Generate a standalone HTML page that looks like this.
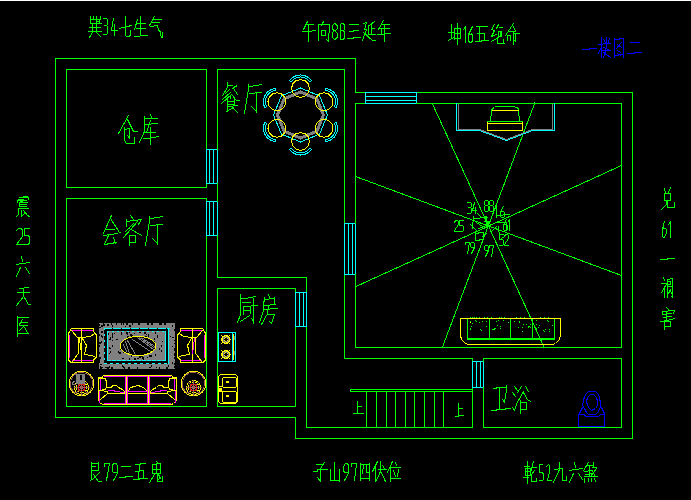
<!DOCTYPE html>
<html><head><meta charset="utf-8"><style>
html,body{margin:0;padding:0;background:#000;width:691px;height:500px;overflow:hidden}
svg{display:block}
</style></head><body>
<svg width="691" height="500" viewBox="0 0 691 500" shape-rendering="crispEdges" stroke-width="1" stroke-linecap="square" fill="none">
<rect x="0" y="0" width="691" height="500" fill="#000"/>
<rect x="0" y="0" width="691" height="1" fill="#ffffff"/>
<polyline points="355.5,92.5 355.5,58.5 55.5,58.5 55.5,417.5 295.5,417.5 295.5,438.5 632.5,438.5 632.5,92.5 416.5,92.5" stroke="#00ff00" fill="none"/>
<line x1="355.5" y1="92.5" x2="365.5" y2="92.5" stroke="#00ff00"/>
<rect x="66.5" y="69.5" width="140" height="118" stroke="#00ff00" fill="none"/>
<rect x="66.5" y="198.5" width="140" height="208" stroke="#00ff00" fill="none"/>
<rect x="206.5" y="149.5" width="11" height="34" stroke="#00ffff" fill="none"/>
<line x1="209.5" y1="149.5" x2="209.5" y2="183.5" stroke="#00ffff"/>
<line x1="213.5" y1="149.5" x2="213.5" y2="183.5" stroke="#00ffff"/>
<rect x="206.5" y="201.5" width="11" height="34" stroke="#00ffff" fill="none"/>
<line x1="209.5" y1="201.5" x2="209.5" y2="235.5" stroke="#00ffff"/>
<line x1="213.5" y1="201.5" x2="213.5" y2="235.5" stroke="#00ffff"/>
<line x1="217.5" y1="69.5" x2="217.5" y2="149.5" stroke="#00ff00"/>
<line x1="217.5" y1="183.5" x2="217.5" y2="201.5" stroke="#00ff00"/>
<line x1="217.5" y1="235.5" x2="217.5" y2="277.5" stroke="#00ff00"/>
<line x1="217.5" y1="69.5" x2="344.5" y2="69.5" stroke="#00ff00"/>
<line x1="344.5" y1="69.5" x2="344.5" y2="223.5" stroke="#00ff00"/>
<line x1="344.5" y1="274.5" x2="344.5" y2="358.5" stroke="#00ff00"/>
<rect x="344.5" y="223.5" width="11" height="51" stroke="#00ffff" fill="none"/>
<line x1="348.5" y1="223.5" x2="348.5" y2="274.5" stroke="#00ffff"/>
<line x1="352.5" y1="223.5" x2="352.5" y2="274.5" stroke="#00ffff"/>
<line x1="217.5" y1="277.5" x2="306.5" y2="277.5" stroke="#00ff00"/>
<line x1="306.5" y1="277.5" x2="306.5" y2="292.5" stroke="#00ff00"/>
<line x1="306.5" y1="326.5" x2="306.5" y2="427.5" stroke="#00ff00"/>
<polyline points="295.5,292.5 295.5,288.5 217.5,288.5 217.5,406.5 295.5,406.5 295.5,326.5" stroke="#00ff00" fill="none"/>
<rect x="295.5" y="292.5" width="11" height="34" stroke="#00ffff" fill="none"/>
<line x1="299.5" y1="292.5" x2="299.5" y2="326.5" stroke="#00ffff"/>
<line x1="303.5" y1="292.5" x2="303.5" y2="326.5" stroke="#00ffff"/>
<line x1="355.5" y1="103.5" x2="365.5" y2="103.5" stroke="#00ff00"/>
<rect x="365.5" y="92.5" width="51" height="11" stroke="#00ffff" fill="none"/>
<line x1="365.5" y1="96.5" x2="416.5" y2="96.5" stroke="#00ffff"/>
<line x1="365.5" y1="100.5" x2="416.5" y2="100.5" stroke="#00ffff"/>
<polyline points="416.5,103.5 621.5,103.5 621.5,347.5 355.5,347.5 355.5,274.5" stroke="#00ff00" fill="none"/>
<line x1="355.5" y1="103.5" x2="355.5" y2="223.5" stroke="#00ff00"/>
<line x1="344.5" y1="358.5" x2="472.5" y2="358.5" stroke="#00ff00"/>
<line x1="472.5" y1="358.5" x2="472.5" y2="361.5" stroke="#00ff00"/>
<line x1="472.5" y1="387.5" x2="472.5" y2="427.5" stroke="#00ff00"/>
<line x1="306.5" y1="427.5" x2="472.5" y2="427.5" stroke="#00ff00"/>
<rect x="472.5" y="361.5" width="11" height="26" stroke="#00ffff" fill="none"/>
<line x1="476.5" y1="361.5" x2="476.5" y2="387.5" stroke="#00ffff"/>
<line x1="480.5" y1="361.5" x2="480.5" y2="387.5" stroke="#00ffff"/>
<polyline points="483.5,361.5 483.5,358.5 621.5,358.5 621.5,427.5 483.5,427.5 483.5,387.5" stroke="#00ff00" fill="none"/>
<polyline points="472.5,389.5 350.5,389.5 350.5,391.5 472.5,391.5" stroke="#00ff00" fill="none"/>
<line x1="366.5" y1="391.5" x2="366.5" y2="427.5" stroke="#00ff00"/>
<line x1="376.5" y1="391.5" x2="376.5" y2="427.5" stroke="#00ff00"/>
<line x1="386.5" y1="391.5" x2="386.5" y2="427.5" stroke="#00ff00"/>
<line x1="395.5" y1="391.5" x2="395.5" y2="427.5" stroke="#00ff00"/>
<line x1="405.5" y1="391.5" x2="405.5" y2="427.5" stroke="#00ff00"/>
<line x1="414.5" y1="391.5" x2="414.5" y2="427.5" stroke="#00ff00"/>
<line x1="424.5" y1="391.5" x2="424.5" y2="427.5" stroke="#00ff00"/>
<line x1="434.5" y1="391.5" x2="434.5" y2="427.5" stroke="#00ff00"/>
<line x1="443.5" y1="391.5" x2="443.5" y2="427.5" stroke="#00ff00"/>
<line x1="432.5" y1="104" x2="544" y2="347" stroke="#00ff00"/>
<line x1="534.8" y1="103" x2="442.5" y2="347" stroke="#00ff00"/>
<line x1="355.5" y1="176.5" x2="621.5" y2="275.5" stroke="#00ff00"/>
<line x1="355.5" y1="286.7" x2="621.5" y2="165.5" stroke="#00ff00"/>
<polyline points="90.5,16.5 90.5,23.5 101.5,23.5" stroke="#00ff00" fill="none"/>
<polyline points="93.5,16.5 93.5,19.5" stroke="#00ff00" fill="none"/>
<polyline points="96.5,16.5 96.5,23.5" stroke="#00ff00" fill="none"/>
<polyline points="100.5,16.5 100.5,19.5" stroke="#00ff00" fill="none"/>
<polyline points="90.5,19.5 100.5,19.5" stroke="#00ff00" fill="none"/>
<polyline points="96.5,21.5 99.5,21.5" stroke="#00ff00" fill="none"/>
<polyline points="99.5,19.5 99.5,23.5" stroke="#00ff00" fill="none"/>
<polyline points="92.5,24.5 92.5,31.5" stroke="#00ff00" fill="none"/>
<polyline points="96.5,24.5 96.5,31.5" stroke="#00ff00" fill="none"/>
<polyline points="89.5,27.5 100.5,27.5" stroke="#00ff00" fill="none"/>
<polyline points="88.5,31.5 101.5,31.5" stroke="#00ff00" fill="none"/>
<polyline points="92.5,32.5 89.5,37.5" stroke="#00ff00" fill="none"/>
<polyline points="95.5,31.5 100.5,36.5" stroke="#00ff00" fill="none"/>
<polyline points="103.5,18.5 106.5,18.5 107.5,19.5 107.5,24.5 106.5,25.5 104.5,25.5" stroke="#00ff00" fill="none"/>
<polyline points="107.5,26.5 107.5,33.5 106.5,34.5 103.5,34.5" stroke="#00ff00" fill="none"/>
<polyline points="113.5,18.5 111.5,30.5 117.5,30.5" stroke="#00ff00" fill="none"/>
<polyline points="114.5,24.5 114.5,35.5" stroke="#00ff00" fill="none"/>
<polyline points="119.5,28.5 131.5,25.5" stroke="#00ff00" fill="none"/>
<polyline points="125.5,16.5 125.5,35.5 126.5,36.5 128.5,36.5 130.5,35.5 130.5,30.5" stroke="#00ff00" fill="none"/>
<polyline points="137.5,19.5 134.5,29.5" stroke="#00ff00" fill="none"/>
<polyline points="136.5,23.5 145.5,23.5" stroke="#00ff00" fill="none"/>
<polyline points="140.5,16.5 140.5,35.5" stroke="#00ff00" fill="none"/>
<polyline points="136.5,28.5 145.5,28.5" stroke="#00ff00" fill="none"/>
<polyline points="134.5,36.5 139.5,36.5 140.5,35.5 147.5,35.5" stroke="#00ff00" fill="none"/>
<polyline points="154.5,16.5 149.5,25.5" stroke="#00ff00" fill="none"/>
<polyline points="152.5,19.5 161.5,19.5" stroke="#00ff00" fill="none"/>
<polyline points="151.5,22.5 159.5,22.5" stroke="#00ff00" fill="none"/>
<polyline points="150.5,26.5 157.5,25.5 158.5,30.5 160.5,31.5 160.5,34.5 161.5,37.5" stroke="#00ff00" fill="none"/>
<polyline points="162.5,32.5 162.5,37.5" stroke="#00ff00" fill="none"/>
<polyline points="307.5,21.5 303.5,29.5" stroke="#00ff00" fill="none"/>
<polyline points="306.5,24.5 313.5,24.5" stroke="#00ff00" fill="none"/>
<polyline points="302.5,31.5 308.5,31.5 315.5,30.5" stroke="#00ff00" fill="none"/>
<polyline points="308.5,24.5 308.5,41.5" stroke="#00ff00" fill="none"/>
<polyline points="323.5,21.5 321.5,25.5" stroke="#00ff00" fill="none"/>
<polyline points="318.5,24.5 318.5,40.5" stroke="#00ff00" fill="none"/>
<polyline points="318.5,24.5 329.5,24.5 328.5,41.5 326.5,39.5" stroke="#00ff00" fill="none"/>
<polyline points="321.5,30.5 325.5,30.5 325.5,35.5 321.5,35.5 321.5,30.5" stroke="#00ff00" fill="none"/>
<polyline points="334.5,23.5 336.5,24.5 337.5,26.5 337.5,28.5 335.5,30.5 334.5,30.5 332.5,29.5 332.5,25.5 334.5,23.5" stroke="#00ff00" fill="none"/>
<polyline points="334.5,30.5 332.5,32.5 332.5,37.5 334.5,39.5 336.5,38.5 337.5,36.5 337.5,33.5 335.5,31.5 334.5,30.5" stroke="#00ff00" fill="none"/>
<polyline points="341.5,23.5 343.5,23.5 344.5,25.5 344.5,29.5 343.5,30.5 341.5,30.5" stroke="#00ff00" fill="none"/>
<polyline points="340.5,24.5 340.5,39.5" stroke="#00ff00" fill="none"/>
<polyline points="343.5,30.5 344.5,32.5 344.5,37.5 343.5,39.5 341.5,39.5" stroke="#00ff00" fill="none"/>
<polyline points="349.5,24.5 358.5,24.5" stroke="#00ff00" fill="none"/>
<polyline points="349.5,31.5 353.5,31.5 353.5,30.5 358.5,30.5" stroke="#00ff00" fill="none"/>
<polyline points="347.5,38.5 353.5,38.5 353.5,37.5 360.5,37.5" stroke="#00ff00" fill="none"/>
<polyline points="363.5,23.5 366.5,22.5 364.5,29.5 366.5,29.5 362.5,40.5" stroke="#00ff00" fill="none"/>
<polyline points="363.5,32.5 372.5,40.5 375.5,40.5" stroke="#00ff00" fill="none"/>
<polyline points="374.5,21.5 369.5,25.5" stroke="#00ff00" fill="none"/>
<polyline points="368.5,25.5 368.5,34.5" stroke="#00ff00" fill="none"/>
<polyline points="371.5,24.5 371.5,34.5" stroke="#00ff00" fill="none"/>
<polyline points="371.5,28.5 374.5,28.5" stroke="#00ff00" fill="none"/>
<polyline points="368.5,34.5 375.5,34.5" stroke="#00ff00" fill="none"/>
<polyline points="383.5,20.5 378.5,29.5" stroke="#00ff00" fill="none"/>
<polyline points="381.5,24.5 389.5,24.5" stroke="#00ff00" fill="none"/>
<polyline points="380.5,28.5 389.5,28.5" stroke="#00ff00" fill="none"/>
<polyline points="381.5,28.5 381.5,34.5" stroke="#00ff00" fill="none"/>
<polyline points="377.5,34.5 390.5,33.5" stroke="#00ff00" fill="none"/>
<polyline points="384.5,24.5 384.5,41.5" stroke="#00ff00" fill="none"/>
<polyline points="451.5,24.5 451.5,37.5" stroke="#00ff00" fill="none"/>
<polyline points="448.5,32.5 453.5,32.5" stroke="#00ff00" fill="none"/>
<polyline points="448.5,40.5 453.5,37.5" stroke="#00ff00" fill="none"/>
<polyline points="454.5,29.5 454.5,39.5" stroke="#00ff00" fill="none"/>
<polyline points="454.5,28.5 460.5,28.5 460.5,38.5 454.5,38.5" stroke="#00ff00" fill="none"/>
<polyline points="454.5,33.5 460.5,33.5" stroke="#00ff00" fill="none"/>
<polyline points="457.5,23.5 457.5,44.5" stroke="#00ff00" fill="none"/>
<polyline points="463.5,29.5 465.5,26.5 465.5,42.5" stroke="#00ff00" fill="none"/>
<polyline points="472.5,26.5 468.5,34.5 468.5,41.5 470.5,42.5 472.5,41.5 472.5,35.5 471.5,33.5 468.5,35.5" stroke="#00ff00" fill="none"/>
<polyline points="476.5,26.5 487.5,26.5" stroke="#00ff00" fill="none"/>
<polyline points="479.5,26.5 479.5,41.5" stroke="#00ff00" fill="none"/>
<polyline points="477.5,33.5 484.5,33.5 484.5,40.5" stroke="#00ff00" fill="none"/>
<polyline points="475.5,41.5 481.5,41.5 481.5,40.5 488.5,40.5" stroke="#00ff00" fill="none"/>
<polyline points="494.5,24.5 491.5,29.5 494.5,30.5 491.5,36.5 496.5,34.5" stroke="#00ff00" fill="none"/>
<polyline points="491.5,41.5 496.5,38.5" stroke="#00ff00" fill="none"/>
<polyline points="498.5,24.5 496.5,28.5" stroke="#00ff00" fill="none"/>
<polyline points="499.5,27.5 502.5,27.5" stroke="#00ff00" fill="none"/>
<polyline points="498.5,31.5 501.5,31.5 501.5,36.5 498.5,36.5 498.5,31.5" stroke="#00ff00" fill="none"/>
<polyline points="500.5,31.5 500.5,36.5" stroke="#00ff00" fill="none"/>
<polyline points="497.5,38.5 497.5,43.5 504.5,43.5" stroke="#00ff00" fill="none"/>
<polyline points="503.5,39.5 503.5,43.5" stroke="#00ff00" fill="none"/>
<polyline points="497.5,38.5 498.5,36.5" stroke="#00ff00" fill="none"/>
<polyline points="513.5,23.5 505.5,35.5" stroke="#00ff00" fill="none"/>
<polyline points="512.5,25.5 515.5,30.5" stroke="#00ff00" fill="none"/>
<polyline points="509.5,31.5 515.5,31.5" stroke="#00ff00" fill="none"/>
<polyline points="507.5,35.5 507.5,40.5" stroke="#00ff00" fill="none"/>
<polyline points="507.5,35.5 510.5,35.5 510.5,40.5" stroke="#00ff00" fill="none"/>
<polyline points="513.5,33.5 519.5,33.5" stroke="#00ff00" fill="none"/>
<polyline points="513.5,32.5 513.5,44.5" stroke="#00ff00" fill="none"/>
<polyline points="515.5,33.5 515.5,41.5 514.5,40.5" stroke="#00ff00" fill="none"/>
<polyline points="582.5,49.5 589.5,49.5 589.5,48.5 596.5,48.5" stroke="#0000ff" fill="none"/>
<polyline points="601.5,37.5 601.5,57.5" stroke="#0000ff" fill="none"/>
<polyline points="598.5,44.5 602.5,44.5" stroke="#0000ff" fill="none"/>
<polyline points="601.5,46.5 598.5,53.5" stroke="#0000ff" fill="none"/>
<polyline points="603.5,39.5 605.5,42.5" stroke="#0000ff" fill="none"/>
<polyline points="609.5,38.5 608.5,42.5" stroke="#0000ff" fill="none"/>
<polyline points="606.5,37.5 606.5,47.5" stroke="#0000ff" fill="none"/>
<polyline points="603.5,43.5 610.5,43.5" stroke="#0000ff" fill="none"/>
<polyline points="603.5,47.5 610.5,50.5" stroke="#0000ff" fill="none"/>
<polyline points="606.5,47.5 603.5,57.5" stroke="#0000ff" fill="none"/>
<polyline points="603.5,52.5 610.5,57.5" stroke="#0000ff" fill="none"/>
<polyline points="602.5,50.5 610.5,50.5" stroke="#0000ff" fill="none"/>
<polyline points="614.5,38.5 614.5,57.5" stroke="#0000ff" fill="none"/>
<polyline points="623.5,38.5 623.5,57.5" stroke="#0000ff" fill="none"/>
<polyline points="614.5,39.5 619.5,39.5 619.5,38.5 623.5,38.5" stroke="#0000ff" fill="none"/>
<polyline points="614.5,55.5 618.5,55.5 618.5,54.5 623.5,54.5" stroke="#0000ff" fill="none"/>
<polyline points="621.5,42.5 616.5,48.5" stroke="#0000ff" fill="none"/>
<polyline points="617.5,44.5 621.5,47.5" stroke="#0000ff" fill="none"/>
<polyline points="617.5,50.5 620.5,52.5" stroke="#0000ff" fill="none"/>
<polyline points="617.5,53.5 620.5,55.5" stroke="#0000ff" fill="none"/>
<polyline points="630.5,42.5 639.5,42.5" stroke="#0000ff" fill="none"/>
<polyline points="627.5,53.5 634.5,53.5 634.5,52.5 641.5,52.5" stroke="#0000ff" fill="none"/>
<polyline points="23.5,196.5 27.5,196.5" stroke="#00ff00" fill="none"/>
<polyline points="19.5,197.5 28.5,197.5 28.5,199.5" stroke="#00ff00" fill="none"/>
<polyline points="18.5,199.5 23.5,199.5" stroke="#00ff00" fill="none"/>
<polyline points="17.5,200.5 26.5,200.5" stroke="#00ff00" fill="none"/>
<polyline points="17.5,200.5 17.5,202.5" stroke="#00ff00" fill="none"/>
<polyline points="19.5,202.5 27.5,202.5" stroke="#00ff00" fill="none"/>
<polyline points="20.5,201.5 22.5,201.5" stroke="#00ff00" fill="none"/>
<polyline points="19.5,203.5 19.5,206.5" stroke="#00ff00" fill="none"/>
<polyline points="19.5,204.5 26.5,204.5" stroke="#00ff00" fill="none"/>
<polyline points="19.5,206.5 26.5,206.5" stroke="#00ff00" fill="none"/>
<polyline points="18.5,208.5 28.5,208.5" stroke="#00ff00" fill="none"/>
<polyline points="18.5,208.5 18.5,214.5 16.5,216.5" stroke="#00ff00" fill="none"/>
<polyline points="21.5,210.5 21.5,216.5" stroke="#00ff00" fill="none"/>
<polyline points="23.5,210.5 27.5,215.5 29.5,216.5" stroke="#00ff00" fill="none"/>
<polyline points="24.5,213.5 22.5,215.5" stroke="#00ff00" fill="none"/>
<polyline points="16.5,230.5 18.5,228.5 21.5,228.5 22.5,230.5 22.5,236.5 16.5,244.5 17.5,244.5 23.5,244.5" stroke="#00ff00" fill="none"/>
<polyline points="29.5,228.5 24.5,228.5 24.5,235.5 28.5,235.5 29.5,237.5 29.5,242.5 28.5,244.5 23.5,244.5" stroke="#00ff00" fill="none"/>
<polyline points="21.5,256.5 22.5,261.5" stroke="#00ff00" fill="none"/>
<polyline points="16.5,264.5 22.5,263.5 29.5,262.5" stroke="#00ff00" fill="none"/>
<polyline points="20.5,267.5 16.5,276.5" stroke="#00ff00" fill="none"/>
<polyline points="25.5,267.5 29.5,273.5" stroke="#00ff00" fill="none"/>
<polyline points="19.5,288.5 28.5,287.5" stroke="#00ff00" fill="none"/>
<polyline points="17.5,292.5 29.5,292.5" stroke="#00ff00" fill="none"/>
<polyline points="23.5,288.5 23.5,296.5 16.5,305.5" stroke="#00ff00" fill="none"/>
<polyline points="24.5,297.5 28.5,304.5 30.5,304.5" stroke="#00ff00" fill="none"/>
<polyline points="17.5,316.5 17.5,336.5" stroke="#00ff00" fill="none"/>
<polyline points="17.5,317.5 28.5,317.5" stroke="#00ff00" fill="none"/>
<polyline points="17.5,333.5 28.5,333.5" stroke="#00ff00" fill="none"/>
<polyline points="22.5,319.5 19.5,324.5" stroke="#00ff00" fill="none"/>
<polyline points="20.5,322.5 27.5,322.5" stroke="#00ff00" fill="none"/>
<polyline points="19.5,325.5 27.5,325.5" stroke="#00ff00" fill="none"/>
<polyline points="23.5,326.5 19.5,330.5" stroke="#00ff00" fill="none"/>
<polyline points="24.5,327.5 27.5,332.5" stroke="#00ff00" fill="none"/>
<polyline points="664.5,188.5 665.5,192.5" stroke="#00ff00" fill="none"/>
<polyline points="670.5,187.5 668.5,192.5" stroke="#00ff00" fill="none"/>
<polyline points="664.5,193.5 670.5,193.5 670.5,200.5 664.5,200.5 664.5,193.5" stroke="#00ff00" fill="none"/>
<polyline points="666.5,200.5 666.5,204.5 661.5,209.5" stroke="#00ff00" fill="none"/>
<polyline points="667.5,200.5 667.5,207.5 674.5,207.5 674.5,202.5" stroke="#00ff00" fill="none"/>
<polyline points="664.5,221.5 662.5,228.5 662.5,236.5 663.5,237.5 665.5,236.5 666.5,232.5 666.5,229.5 663.5,227.5 662.5,229.5" stroke="#00ff00" fill="none"/>
<polyline points="668.5,224.5 670.5,221.5 670.5,237.5" stroke="#00ff00" fill="none"/>
<polyline points="660.5,259.5 667.5,259.5 667.5,258.5 674.5,258.5" stroke="#00ff00" fill="none"/>
<polyline points="663.5,277.5 664.5,280.5" stroke="#00ff00" fill="none"/>
<polyline points="661.5,283.5 666.5,283.5" stroke="#00ff00" fill="none"/>
<polyline points="666.5,284.5 661.5,292.5" stroke="#00ff00" fill="none"/>
<polyline points="664.5,286.5 664.5,297.5" stroke="#00ff00" fill="none"/>
<polyline points="667.5,279.5 667.5,297.5" stroke="#00ff00" fill="none"/>
<polyline points="667.5,279.5 672.5,278.5" stroke="#00ff00" fill="none"/>
<polyline points="672.5,278.5 672.5,297.5 671.5,296.5" stroke="#00ff00" fill="none"/>
<polyline points="668.5,281.5 670.5,281.5 670.5,284.5 668.5,284.5" stroke="#00ff00" fill="none"/>
<polyline points="667.5,286.5 672.5,286.5" stroke="#00ff00" fill="none"/>
<polyline points="670.5,289.5 668.5,293.5" stroke="#00ff00" fill="none"/>
<polyline points="670.5,291.5 672.5,294.5" stroke="#00ff00" fill="none"/>
<polyline points="666.5,307.5 668.5,309.5" stroke="#00ff00" fill="none"/>
<polyline points="662.5,311.5 662.5,314.5" stroke="#00ff00" fill="none"/>
<polyline points="662.5,311.5 674.5,310.5 673.5,313.5" stroke="#00ff00" fill="none"/>
<polyline points="666.5,311.5 666.5,319.5" stroke="#00ff00" fill="none"/>
<polyline points="663.5,314.5 671.5,313.5" stroke="#00ff00" fill="none"/>
<polyline points="663.5,317.5 671.5,316.5" stroke="#00ff00" fill="none"/>
<polyline points="660.5,321.5 667.5,320.5 674.5,318.5" stroke="#00ff00" fill="none"/>
<polyline points="664.5,321.5 664.5,329.5" stroke="#00ff00" fill="none"/>
<polyline points="664.5,321.5 670.5,321.5 670.5,326.5 664.5,326.5" stroke="#00ff00" fill="none"/>
<polyline points="91.5,462.5 91.5,479.5 90.5,480.5" stroke="#00ff00" fill="none"/>
<polyline points="91.5,463.5 98.5,463.5" stroke="#00ff00" fill="none"/>
<polyline points="98.5,462.5 98.5,470.5" stroke="#00ff00" fill="none"/>
<polyline points="92.5,466.5 95.5,466.5" stroke="#00ff00" fill="none"/>
<polyline points="91.5,470.5 98.5,470.5" stroke="#00ff00" fill="none"/>
<polyline points="99.5,472.5 92.5,479.5" stroke="#00ff00" fill="none"/>
<polyline points="93.5,474.5 98.5,481.5 101.5,481.5" stroke="#00ff00" fill="none"/>
<polyline points="104.5,466.5 104.5,463.5 109.5,463.5 106.5,480.5" stroke="#00ff00" fill="none"/>
<polyline points="113.5,463.5 116.5,463.5 117.5,466.5 117.5,473.5 113.5,480.5" stroke="#00ff00" fill="none"/>
<polyline points="113.5,463.5 112.5,465.5 112.5,471.5 113.5,472.5 117.5,472.5" stroke="#00ff00" fill="none"/>
<polyline points="121.5,466.5 130.5,466.5" stroke="#00ff00" fill="none"/>
<polyline points="119.5,477.5 125.5,477.5 125.5,476.5 132.5,476.5" stroke="#00ff00" fill="none"/>
<polyline points="135.5,464.5 140.5,464.5 140.5,463.5 145.5,463.5" stroke="#00ff00" fill="none"/>
<polyline points="139.5,464.5 139.5,471.5 138.5,472.5 138.5,479.5" stroke="#00ff00" fill="none"/>
<polyline points="135.5,471.5 143.5,470.5" stroke="#00ff00" fill="none"/>
<polyline points="143.5,470.5 143.5,478.5" stroke="#00ff00" fill="none"/>
<polyline points="133.5,479.5 139.5,479.5 139.5,478.5 147.5,478.5" stroke="#00ff00" fill="none"/>
<polyline points="156.5,461.5 157.5,462.5" stroke="#00ff00" fill="none"/>
<polyline points="152.5,464.5 152.5,473.5" stroke="#00ff00" fill="none"/>
<polyline points="152.5,464.5 160.5,463.5" stroke="#00ff00" fill="none"/>
<polyline points="160.5,463.5 160.5,473.5" stroke="#00ff00" fill="none"/>
<polyline points="152.5,469.5 160.5,469.5" stroke="#00ff00" fill="none"/>
<polyline points="152.5,473.5 160.5,473.5" stroke="#00ff00" fill="none"/>
<polyline points="156.5,464.5 156.5,473.5" stroke="#00ff00" fill="none"/>
<polyline points="154.5,474.5 149.5,482.5" stroke="#00ff00" fill="none"/>
<polyline points="157.5,473.5 157.5,481.5 162.5,481.5 162.5,476.5" stroke="#00ff00" fill="none"/>
<polyline points="158.5,474.5 160.5,478.5 157.5,479.5" stroke="#00ff00" fill="none"/>
<polyline points="316.5,464.5 322.5,464.5" stroke="#00ff00" fill="none"/>
<polyline points="324.5,462.5 320.5,468.5" stroke="#00ff00" fill="none"/>
<polyline points="313.5,471.5 317.5,471.5 317.5,469.5 327.5,469.5" stroke="#00ff00" fill="none"/>
<polyline points="320.5,468.5 320.5,481.5 317.5,477.5" stroke="#00ff00" fill="none"/>
<polyline points="334.5,462.5 334.5,480.5" stroke="#00ff00" fill="none"/>
<polyline points="330.5,469.5 330.5,480.5 339.5,480.5" stroke="#00ff00" fill="none"/>
<polyline points="339.5,469.5 339.5,481.5" stroke="#00ff00" fill="none"/>
<polyline points="345.5,463.5 347.5,463.5 348.5,465.5 348.5,473.5 344.5,480.5" stroke="#00ff00" fill="none"/>
<polyline points="345.5,463.5 343.5,466.5 343.5,470.5 344.5,472.5 348.5,472.5" stroke="#00ff00" fill="none"/>
<polyline points="351.5,466.5 351.5,463.5 356.5,463.5 354.5,480.5" stroke="#00ff00" fill="none"/>
<polyline points="360.5,463.5 360.5,480.5" stroke="#00ff00" fill="none"/>
<polyline points="369.5,463.5 369.5,480.5" stroke="#00ff00" fill="none"/>
<polyline points="360.5,464.5 369.5,464.5" stroke="#00ff00" fill="none"/>
<polyline points="360.5,478.5 369.5,478.5" stroke="#00ff00" fill="none"/>
<polyline points="363.5,465.5 362.5,473.5" stroke="#00ff00" fill="none"/>
<polyline points="366.5,465.5 366.5,472.5 369.5,472.5" stroke="#00ff00" fill="none"/>
<polyline points="377.5,461.5 372.5,471.5" stroke="#00ff00" fill="none"/>
<polyline points="375.5,466.5 375.5,481.5" stroke="#00ff00" fill="none"/>
<polyline points="378.5,469.5 386.5,469.5" stroke="#00ff00" fill="none"/>
<polyline points="380.5,461.5 380.5,471.5 376.5,480.5" stroke="#00ff00" fill="none"/>
<polyline points="381.5,472.5 385.5,481.5" stroke="#00ff00" fill="none"/>
<polyline points="382.5,465.5 384.5,468.5" stroke="#00ff00" fill="none"/>
<polyline points="392.5,461.5 387.5,472.5" stroke="#00ff00" fill="none"/>
<polyline points="390.5,466.5 390.5,481.5" stroke="#00ff00" fill="none"/>
<polyline points="395.5,462.5 396.5,465.5" stroke="#00ff00" fill="none"/>
<polyline points="391.5,467.5 400.5,467.5" stroke="#00ff00" fill="none"/>
<polyline points="393.5,470.5 395.5,476.5" stroke="#00ff00" fill="none"/>
<polyline points="398.5,469.5 397.5,476.5" stroke="#00ff00" fill="none"/>
<polyline points="390.5,478.5 400.5,478.5" stroke="#00ff00" fill="none"/>
<polyline points="524.5,466.5 529.5,466.5" stroke="#00ff00" fill="none"/>
<polyline points="527.5,461.5 527.5,483.5" stroke="#00ff00" fill="none"/>
<polyline points="525.5,468.5 530.5,468.5 530.5,475.5 525.5,475.5 525.5,468.5" stroke="#00ff00" fill="none"/>
<polyline points="525.5,471.5 530.5,471.5" stroke="#00ff00" fill="none"/>
<polyline points="523.5,477.5 528.5,477.5" stroke="#00ff00" fill="none"/>
<polyline points="533.5,461.5 530.5,472.5" stroke="#00ff00" fill="none"/>
<polyline points="531.5,467.5 536.5,467.5" stroke="#00ff00" fill="none"/>
<polyline points="534.5,470.5 531.5,474.5 531.5,481.5 536.5,481.5 536.5,478.5" stroke="#00ff00" fill="none"/>
<polyline points="542.5,464.5 539.5,464.5 539.5,472.5 542.5,472.5 543.5,474.5 543.5,479.5 542.5,480.5 539.5,480.5" stroke="#00ff00" fill="none"/>
<polyline points="546.5,466.5 548.5,464.5 549.5,465.5 549.5,472.5 547.5,479.5 547.5,480.5 551.5,480.5" stroke="#00ff00" fill="none"/>
<polyline points="554.5,469.5 562.5,468.5 562.5,480.5 566.5,480.5 566.5,476.5" stroke="#00ff00" fill="none"/>
<polyline points="559.5,462.5 559.5,469.5 553.5,482.5" stroke="#00ff00" fill="none"/>
<polyline points="574.5,462.5 575.5,467.5" stroke="#00ff00" fill="none"/>
<polyline points="569.5,470.5 575.5,469.5 582.5,468.5" stroke="#00ff00" fill="none"/>
<polyline points="573.5,473.5 569.5,482.5" stroke="#00ff00" fill="none"/>
<polyline points="578.5,473.5 582.5,479.5" stroke="#00ff00" fill="none"/>
<polyline points="588.5,462.5 583.5,470.5" stroke="#00ff00" fill="none"/>
<polyline points="586.5,465.5 593.5,465.5" stroke="#00ff00" fill="none"/>
<polyline points="589.5,465.5 589.5,475.5" stroke="#00ff00" fill="none"/>
<polyline points="584.5,471.5 592.5,470.5" stroke="#00ff00" fill="none"/>
<polyline points="585.5,474.5 592.5,473.5" stroke="#00ff00" fill="none"/>
<polyline points="593.5,462.5 593.5,467.5" stroke="#00ff00" fill="none"/>
<polyline points="592.5,467.5 596.5,467.5" stroke="#00ff00" fill="none"/>
<polyline points="596.5,468.5 590.5,476.5" stroke="#00ff00" fill="none"/>
<polyline points="592.5,471.5 595.5,476.5" stroke="#00ff00" fill="none"/>
<polyline points="584.5,476.5 597.5,476.5" stroke="#00ff00" fill="none"/>
<polyline points="584.5,478.5 584.5,482.5" stroke="#00ff00" fill="none"/>
<polyline points="588.5,478.5 588.5,481.5" stroke="#00ff00" fill="none"/>
<polyline points="591.5,478.5 591.5,481.5" stroke="#00ff00" fill="none"/>
<polyline points="594.5,478.5 595.5,481.5" stroke="#00ff00" fill="none"/>
<polyline points="128.5,115.5 118.5,133.5" stroke="#00ff00" fill="none"/>
<polyline points="127.5,119.5 133.5,131.5 137.5,131.5" stroke="#00ff00" fill="none"/>
<polyline points="124.5,127.5 124.5,140.5 126.5,143.5 134.5,143.5 134.5,137.5" stroke="#00ff00" fill="none"/>
<polyline points="124.5,129.5 129.5,128.5 129.5,138.5" stroke="#00ff00" fill="none"/>
<polyline points="127.5,135.5 129.5,138.5" stroke="#00ff00" fill="none"/>
<polyline points="150.5,114.5 151.5,117.5" stroke="#00ff00" fill="none"/>
<polyline points="144.5,118.5 157.5,118.5" stroke="#00ff00" fill="none"/>
<polyline points="144.5,116.5 144.5,131.5 139.5,142.5" stroke="#00ff00" fill="none"/>
<polyline points="145.5,124.5 157.5,123.5" stroke="#00ff00" fill="none"/>
<polyline points="150.5,120.5 146.5,132.5" stroke="#00ff00" fill="none"/>
<polyline points="145.5,132.5 155.5,132.5" stroke="#00ff00" fill="none"/>
<polyline points="150.5,127.5 150.5,144.5" stroke="#00ff00" fill="none"/>
<polyline points="143.5,138.5 148.5,138.5 158.5,136.5" stroke="#00ff00" fill="none"/>
<polyline points="111.5,215.5 103.5,233.5" stroke="#00ff00" fill="none"/>
<polyline points="110.5,218.5 119.5,232.5 120.5,232.5" stroke="#00ff00" fill="none"/>
<polyline points="106.5,229.5 114.5,229.5" stroke="#00ff00" fill="none"/>
<polyline points="103.5,235.5 117.5,233.5" stroke="#00ff00" fill="none"/>
<polyline points="108.5,235.5 104.5,244.5 116.5,242.5" stroke="#00ff00" fill="none"/>
<polyline points="113.5,237.5 115.5,243.5" stroke="#00ff00" fill="none"/>
<polyline points="130.5,215.5 133.5,219.5" stroke="#00ff00" fill="none"/>
<polyline points="126.5,219.5 126.5,226.5" stroke="#00ff00" fill="none"/>
<polyline points="126.5,221.5 141.5,219.5 138.5,224.5" stroke="#00ff00" fill="none"/>
<polyline points="133.5,223.5 125.5,231.5" stroke="#00ff00" fill="none"/>
<polyline points="137.5,221.5 123.5,237.5" stroke="#00ff00" fill="none"/>
<polyline points="129.5,228.5 141.5,235.5" stroke="#00ff00" fill="none"/>
<polyline points="129.5,235.5 129.5,245.5" stroke="#00ff00" fill="none"/>
<polyline points="129.5,235.5 135.5,235.5 135.5,242.5 129.5,242.5" stroke="#00ff00" fill="none"/>
<polyline points="150.5,218.5 157.5,217.5 162.5,216.5" stroke="#00ff00" fill="none"/>
<polyline points="149.5,216.5 149.5,221.5 145.5,245.5" stroke="#00ff00" fill="none"/>
<polyline points="150.5,225.5 162.5,224.5" stroke="#00ff00" fill="none"/>
<polyline points="157.5,225.5 157.5,244.5" stroke="#00ff00" fill="none"/>
<polyline points="152.5,238.5 157.5,243.5" stroke="#00ff00" fill="none"/>
<polyline points="227.5,82.5 227.5,87.5" stroke="#00ff00" fill="none"/>
<polyline points="227.5,85.5 232.5,85.5" stroke="#00ff00" fill="none"/>
<polyline points="227.5,87.5 222.5,95.5" stroke="#00ff00" fill="none"/>
<polyline points="229.5,89.5 225.5,93.5" stroke="#00ff00" fill="none"/>
<polyline points="236.5,85.5 232.5,88.5" stroke="#00ff00" fill="none"/>
<polyline points="233.5,88.5 237.5,94.5" stroke="#00ff00" fill="none"/>
<polyline points="234.5,86.5 236.5,86.5" stroke="#00ff00" fill="none"/>
<polyline points="230.5,92.5 222.5,99.5" stroke="#00ff00" fill="none"/>
<polyline points="231.5,94.5 221.5,103.5" stroke="#00ff00" fill="none"/>
<polyline points="231.5,94.5 236.5,100.5 239.5,100.5" stroke="#00ff00" fill="none"/>
<polyline points="227.5,97.5 227.5,111.5" stroke="#00ff00" fill="none"/>
<polyline points="228.5,101.5 234.5,101.5" stroke="#00ff00" fill="none"/>
<polyline points="234.5,99.5 234.5,104.5" stroke="#00ff00" fill="none"/>
<polyline points="228.5,104.5 234.5,104.5" stroke="#00ff00" fill="none"/>
<polyline points="228.5,106.5 237.5,105.5" stroke="#00ff00" fill="none"/>
<polyline points="226.5,111.5 233.5,107.5" stroke="#00ff00" fill="none"/>
<polyline points="232.5,107.5 237.5,112.5" stroke="#00ff00" fill="none"/>
<polyline points="230.5,96.5 230.5,98.5" stroke="#00ff00" fill="none"/>
<polyline points="249.5,86.5 256.5,85.5 261.5,84.5" stroke="#00ff00" fill="none"/>
<polyline points="248.5,84.5 248.5,89.5 244.5,113.5" stroke="#00ff00" fill="none"/>
<polyline points="249.5,93.5 261.5,92.5" stroke="#00ff00" fill="none"/>
<polyline points="256.5,93.5 256.5,112.5" stroke="#00ff00" fill="none"/>
<polyline points="251.5,106.5 256.5,111.5" stroke="#00ff00" fill="none"/>
<polyline points="240.5,294.5 240.5,314.5 237.5,322.5" stroke="#00ff00" fill="none"/>
<polyline points="241.5,298.5 245.5,298.5 255.5,296.5" stroke="#00ff00" fill="none"/>
<polyline points="242.5,302.5 250.5,302.5" stroke="#00ff00" fill="none"/>
<polyline points="243.5,306.5 250.5,306.5" stroke="#00ff00" fill="none"/>
<polyline points="243.5,306.5 243.5,314.5" stroke="#00ff00" fill="none"/>
<polyline points="250.5,306.5 250.5,313.5" stroke="#00ff00" fill="none"/>
<polyline points="244.5,310.5 249.5,310.5" stroke="#00ff00" fill="none"/>
<polyline points="249.5,315.5 240.5,321.5" stroke="#00ff00" fill="none"/>
<polyline points="251.5,305.5 257.5,305.5" stroke="#00ff00" fill="none"/>
<polyline points="253.5,298.5 253.5,323.5" stroke="#00ff00" fill="none"/>
<polyline points="251.5,318.5 253.5,321.5" stroke="#00ff00" fill="none"/>
<polyline points="268.5,294.5 269.5,297.5" stroke="#00ff00" fill="none"/>
<polyline points="264.5,297.5 264.5,300.5 263.5,302.5 263.5,310.5 259.5,322.5" stroke="#00ff00" fill="none"/>
<polyline points="264.5,299.5 274.5,298.5" stroke="#00ff00" fill="none"/>
<polyline points="274.5,297.5 274.5,304.5" stroke="#00ff00" fill="none"/>
<polyline points="264.5,305.5 275.5,304.5" stroke="#00ff00" fill="none"/>
<polyline points="263.5,309.5 277.5,308.5" stroke="#00ff00" fill="none"/>
<polyline points="268.5,306.5 268.5,309.5" stroke="#00ff00" fill="none"/>
<polyline points="267.5,310.5 267.5,314.5 274.5,314.5 271.5,323.5 269.5,321.5" stroke="#00ff00" fill="none"/>
<polyline points="266.5,315.5 261.5,324.5" stroke="#00ff00" fill="none"/>
<polyline points="493.5,388.5 496.5,388.5 496.5,387.5 506.5,387.5" stroke="#00ff00" fill="none"/>
<polyline points="506.5,385.5 506.5,390.5 504.5,402.5 502.5,399.5" stroke="#00ff00" fill="none"/>
<polyline points="499.5,387.5 499.5,409.5" stroke="#00ff00" fill="none"/>
<polyline points="491.5,410.5 496.5,410.5 496.5,409.5 505.5,409.5 505.5,408.5 510.5,408.5" stroke="#00ff00" fill="none"/>
<polyline points="514.5,386.5 517.5,390.5" stroke="#00ff00" fill="none"/>
<polyline points="512.5,392.5 515.5,396.5" stroke="#00ff00" fill="none"/>
<polyline points="517.5,401.5 514.5,410.5 512.5,407.5" stroke="#00ff00" fill="none"/>
<polyline points="521.5,386.5 517.5,392.5" stroke="#00ff00" fill="none"/>
<polyline points="525.5,386.5 528.5,391.5" stroke="#00ff00" fill="none"/>
<polyline points="523.5,391.5 518.5,400.5" stroke="#00ff00" fill="none"/>
<polyline points="523.5,392.5 527.5,399.5 530.5,401.5" stroke="#00ff00" fill="none"/>
<polyline points="520.5,400.5 520.5,413.5" stroke="#00ff00" fill="none"/>
<polyline points="520.5,402.5 526.5,402.5 526.5,409.5 520.5,409.5" stroke="#00ff00" fill="none"/>
<polyline points="357.5,401.5 357.5,413.5" stroke="#00ff00" fill="none"/>
<polyline points="357.5,406.5 361.5,406.5" stroke="#00ff00" fill="none"/>
<polyline points="353.5,413.5 363.5,413.5" stroke="#00ff00" fill="none"/>
<polyline points="458.5,403.5 458.5,415.5" stroke="#00ff00" fill="none"/>
<polyline points="458.5,408.5 462.5,408.5" stroke="#00ff00" fill="none"/>
<polyline points="455.5,416.5 458.5,416.5 458.5,415.5 463.5,415.5" stroke="#00ff00" fill="none"/>
<polyline points="467.5,202.5 470.5,202.5 471.5,203.5 471.5,206.5 470.5,207.5 468.5,207.5" stroke="#00ff00" fill="none"/>
<polyline points="470.5,207.5 471.5,208.5 471.5,212.5 470.5,213.5 467.5,213.5" stroke="#00ff00" fill="none"/>
<polyline points="474.5,202.5 472.5,210.5 476.5,210.5" stroke="#00ff00" fill="none"/>
<polyline points="475.5,207.5 475.5,213.5" stroke="#00ff00" fill="none"/>
<polyline points="485.5,200.5 487.5,200.5 488.5,201.5 488.5,204.5 487.5,205.5 485.5,205.5 484.5,204.5 484.5,201.5 485.5,200.5" stroke="#00ff00" fill="none"/>
<polyline points="485.5,205.5 484.5,206.5 484.5,210.5 485.5,211.5 487.5,211.5 488.5,210.5 488.5,206.5 487.5,205.5" stroke="#00ff00" fill="none"/>
<polyline points="490.5,200.5 492.5,200.5 493.5,201.5 493.5,204.5 492.5,205.5 490.5,205.5 489.5,204.5 489.5,201.5 490.5,200.5" stroke="#00ff00" fill="none"/>
<polyline points="490.5,205.5 489.5,206.5 489.5,210.5 490.5,211.5 492.5,211.5 493.5,210.5 493.5,206.5 492.5,205.5" stroke="#00ff00" fill="none"/>
<polyline points="495.5,208.5 496.5,206.5 496.5,217.5" stroke="#00ff00" fill="none"/>
<polyline points="503.5,206.5 500.5,211.5 500.5,216.5 501.5,217.5 503.5,217.5 504.5,216.5 504.5,212.5 503.5,211.5 501.5,211.5 500.5,212.5" stroke="#00ff00" fill="none"/>
<polyline points="454.5,222.5 455.5,220.5 457.5,220.5 458.5,221.5 458.5,224.5 454.5,230.5 454.5,231.5 458.5,231.5" stroke="#00ff00" fill="none"/>
<polyline points="463.5,220.5 459.5,220.5 459.5,225.5 462.5,225.5 463.5,226.5 463.5,230.5 462.5,231.5 459.5,231.5" stroke="#00ff00" fill="none"/>
<polyline points="506.5,219.5 503.5,224.5 503.5,229.5 504.5,230.5 506.5,230.5 507.5,229.5 507.5,225.5 506.5,224.5 504.5,224.5 503.5,225.5" stroke="#00ff00" fill="none"/>
<polyline points="508.5,221.5 509.5,219.5 509.5,230.5" stroke="#00ff00" fill="none"/>
<polyline points="465.5,244.5 465.5,242.5 469.5,242.5 467.5,253.5" stroke="#00ff00" fill="none"/>
<polyline points="471.5,242.5 473.5,242.5 474.5,243.5 474.5,247.5 471.5,253.5" stroke="#00ff00" fill="none"/>
<polyline points="471.5,242.5 470.5,243.5 470.5,246.5 471.5,247.5 474.5,247.5" stroke="#00ff00" fill="none"/>
<polyline points="485.5,245.5 487.5,245.5 488.5,246.5 488.5,250.5 485.5,256.5" stroke="#00ff00" fill="none"/>
<polyline points="485.5,245.5 484.5,246.5 484.5,249.5 485.5,250.5 488.5,250.5" stroke="#00ff00" fill="none"/>
<polyline points="489.5,247.5 489.5,245.5 493.5,245.5 491.5,256.5" stroke="#00ff00" fill="none"/>
<polyline points="503.5,234.5 499.5,234.5 499.5,239.5 502.5,239.5 503.5,240.5 503.5,244.5 502.5,245.5 499.5,245.5" stroke="#00ff00" fill="none"/>
<polyline points="504.5,236.5 505.5,234.5 507.5,234.5 508.5,235.5 508.5,238.5 504.5,244.5 504.5,245.5 508.5,245.5" stroke="#00ff00" fill="none"/>
<polyline points="473.5,216.5 472.5,228.5" stroke="#00ff00" fill="none"/>
<polyline points="473.5,218.5 487.5,217.5" stroke="#00ff00" fill="none"/>
<polyline points="475.5,233.5 483.5,232.5 483.5,239.5 475.5,240.5 475.5,233.5" stroke="#00ff00" fill="none"/>
<polyline points="470.5,224.5 478.5,232.5" stroke="#00ff00" fill="none"/>
<polyline points="477.5,213.5 480.5,216.5" stroke="#00ff00" fill="none"/>
<polyline points="496.5,215.5 509.5,214.5" stroke="#00ff00" fill="none"/>
<polyline points="495.5,222.5 506.5,222.5 506.5,230.5" stroke="#00ff00" fill="none"/>
<polyline points="484.5,221.5 490.5,221.5" stroke="#00ff00" fill="none"/>
<polyline points="486.5,219.5 486.5,226.5" stroke="#00ff00" fill="none"/>
<polyline points="487.5,222.5 490.5,224.5" stroke="#00ff00" fill="none"/>
<polyline points="484.5,228.5 491.5,224.5" stroke="#00ff00" fill="none"/>
<polyline points="498.5,226.5 499.5,236.5" stroke="#00ff00" fill="none"/>
<polyline points="478.5,228.5 486.5,225.5" stroke="#00ff00" fill="none"/>
<polyline points="491.5,231.5 496.5,226.5" stroke="#00ff00" fill="none"/>
<polyline points="476.5,222.5 482.5,226.5" stroke="#00ff00" fill="none"/>
<polyline points="501.5,238.5 504.5,236.5" stroke="#00ff00" fill="none"/>
<polyline points="482.5,236.5 486.5,233.5" stroke="#00ff00" fill="none"/>
<rect x="486" y="222" width="3" height="4" fill="#00ff00"/>
<rect x="485" y="216" width="2" height="4" fill="#00ff00"/>
<polyline points="456.5,103.5 456.5,130.5 479.5,130.5 506.5,140.5 532.5,130.5 554.5,130.5 554.5,103.5" stroke="#00ffff" fill="none"/>
<polyline points="458.5,104.5 458.5,129.5 479.5,129.5 506.5,139.5 532.5,129.5 552.5,129.5 552.5,104.5" stroke="#808080" fill="none"/>
<rect x="487.5" y="121.5" width="35" height="9" stroke="#ffff00" fill="none"/>
<line x1="487.5" y1="123.5" x2="522.5" y2="123.5" stroke="#ffff00"/>
<polyline points="490.5,121.5 490.5,116.5 491.5,115.5 491.5,110.5 492.5,108.5 494.5,107.5 495.5,106.5 513.5,106.5 516.5,107.5 518.5,108.5 518.5,115.5 519.5,116.5 519.5,121.5" stroke="#00ff00" fill="none"/>
<line x1="487.5" y1="121.5" x2="522.5" y2="121.5" stroke="#00ff00"/>
<line x1="492.5" y1="110.5" x2="518.5" y2="110.5" stroke="#ffff00"/>
<polyline points="460.5,318.5 560.5,318.5 560.5,335.5 559.5,339.5 557.5,341.5 555.5,343.5 552.5,344.5 468.5,344.5 465.5,343.5 463.5,341.5 461.5,339.5 460.5,335.5 460.5,318.5" stroke="#ffff00" fill="none"/>
<polyline points="467.5,319.5 467.5,339.5 554.5,339.5 554.5,319.5" stroke="#00ff00" fill="none"/>
<line x1="467.5" y1="338.5" x2="554.5" y2="338.5" stroke="#00ff00"/>
<line x1="489.5" y1="319.5" x2="489.5" y2="339.5" stroke="#00ff00"/>
<line x1="510.5" y1="319.5" x2="510.5" y2="339.5" stroke="#00ff00"/>
<line x1="532.5" y1="319.5" x2="532.5" y2="339.5" stroke="#00ff00"/>
<rect x="479" y="322" width="1" height="1" fill="#00ff00"/>
<rect x="481" y="330" width="1" height="1" fill="#00ff00"/>
<rect x="470" y="321" width="1" height="1" fill="#00ff00"/>
<rect x="486" y="321" width="1" height="1" fill="#00ff00"/>
<rect x="480" y="329" width="1" height="1" fill="#00ff00"/>
<rect x="470" y="328" width="1" height="1" fill="#00ff00"/>
<rect x="475" y="320" width="1" height="1" fill="#00ff00"/>
<rect x="471" y="326" width="1" height="1" fill="#00ff00"/>
<rect x="482" y="321" width="1" height="1" fill="#00ff00"/>
<rect x="476" y="321" width="1" height="1" fill="#00ff00"/>
<rect x="486" y="326" width="1" height="1" fill="#00ff00"/>
<rect x="470" y="329" width="1" height="1" fill="#00ff00"/>
<rect x="472" y="323" width="1" height="1" fill="#00ff00"/>
<rect x="492" y="329" width="1" height="1" fill="#00ff00"/>
<rect x="503" y="320" width="1" height="1" fill="#00ff00"/>
<rect x="498" y="320" width="1" height="1" fill="#00ff00"/>
<rect x="508" y="322" width="1" height="1" fill="#00ff00"/>
<rect x="500" y="326" width="1" height="1" fill="#00ff00"/>
<rect x="495" y="328" width="1" height="1" fill="#00ff00"/>
<rect x="494" y="329" width="1" height="1" fill="#00ff00"/>
<rect x="500" y="328" width="1" height="1" fill="#00ff00"/>
<rect x="496" y="321" width="1" height="1" fill="#00ff00"/>
<rect x="497" y="325" width="1" height="1" fill="#00ff00"/>
<rect x="494" y="328" width="1" height="1" fill="#00ff00"/>
<rect x="493" y="329" width="1" height="1" fill="#00ff00"/>
<rect x="492" y="329" width="1" height="1" fill="#00ff00"/>
<rect x="518" y="327" width="1" height="1" fill="#00ff00"/>
<rect x="529" y="326" width="1" height="1" fill="#00ff00"/>
<rect x="522" y="327" width="1" height="1" fill="#00ff00"/>
<rect x="530" y="327" width="1" height="1" fill="#00ff00"/>
<rect x="523" y="324" width="1" height="1" fill="#00ff00"/>
<rect x="519" y="322" width="1" height="1" fill="#00ff00"/>
<rect x="519" y="321" width="1" height="1" fill="#00ff00"/>
<rect x="530" y="324" width="1" height="1" fill="#00ff00"/>
<rect x="528" y="327" width="1" height="1" fill="#00ff00"/>
<rect x="522" y="331" width="1" height="1" fill="#00ff00"/>
<rect x="526" y="324" width="1" height="1" fill="#00ff00"/>
<rect x="514" y="321" width="1" height="1" fill="#00ff00"/>
<rect x="528" y="326" width="1" height="1" fill="#00ff00"/>
<rect x="539" y="325" width="1" height="1" fill="#00ff00"/>
<rect x="538" y="327" width="1" height="1" fill="#00ff00"/>
<rect x="547" y="320" width="1" height="1" fill="#00ff00"/>
<rect x="536" y="328" width="1" height="1" fill="#00ff00"/>
<rect x="552" y="325" width="1" height="1" fill="#00ff00"/>
<rect x="544" y="331" width="1" height="1" fill="#00ff00"/>
<rect x="545" y="329" width="1" height="1" fill="#00ff00"/>
<rect x="549" y="329" width="1" height="1" fill="#00ff00"/>
<rect x="548" y="321" width="1" height="1" fill="#00ff00"/>
<rect x="536" y="324" width="1" height="1" fill="#00ff00"/>
<rect x="549" y="331" width="1" height="1" fill="#00ff00"/>
<rect x="536" y="320" width="1" height="1" fill="#00ff00"/>
<rect x="543" y="330" width="1" height="1" fill="#00ff00"/>
<rect x="470" y="317" width="1" height="1" fill="#00ff00"/>
<rect x="472" y="317" width="1" height="1" fill="#00ff00"/>
<rect x="474" y="317" width="1" height="1" fill="#00ff00"/>
<rect x="476" y="317" width="1" height="1" fill="#00ff00"/>
<rect x="479" y="317" width="1" height="1" fill="#00ff00"/>
<rect x="484" y="317" width="1" height="1" fill="#00ff00"/>
<rect x="487" y="317" width="1" height="1" fill="#00ff00"/>
<rect x="491" y="317" width="1" height="1" fill="#00ff00"/>
<rect x="499" y="317" width="1" height="1" fill="#00ff00"/>
<rect x="501" y="317" width="1" height="1" fill="#00ff00"/>
<rect x="504" y="317" width="1" height="1" fill="#00ff00"/>
<rect x="516" y="317" width="1" height="1" fill="#00ff00"/>
<rect x="520" y="317" width="1" height="1" fill="#00ff00"/>
<rect x="524" y="317" width="1" height="1" fill="#00ff00"/>
<rect x="530" y="317" width="1" height="1" fill="#00ff00"/>
<rect x="540" y="317" width="1" height="1" fill="#00ff00"/>
<rect x="544" y="317" width="1" height="1" fill="#00ff00"/>
<rect x="548" y="317" width="1" height="1" fill="#00ff00"/>
<rect x="470" y="322" width="1" height="1" fill="#ffff00"/>
<polyline points="578.5,414.5 584.5,414.5 585.5,416.5 598.5,416.5 600.5,414.5 604.5,414.5 604.5,426.5 578.5,426.5 578.5,414.5" stroke="#0000ff" fill="none"/>
<polyline points="588.5,391.5 595.5,391.5 597.5,393.5 599.5,396.5 599.5,398.5 600.5,402.5 600.5,406.5 599.5,409.5 597.5,412.5 595.5,414.5" stroke="#0000ff" fill="none"/>
<polyline points="588.5,391.5 586.5,393.5 584.5,396.5 583.5,400.5 582.5,405.5 584.5,408.5 586.5,412.5 588.5,414.5 595.5,414.5" stroke="#0000ff" fill="none"/>
<polyline points="590.5,394.5 593.5,394.5 596.5,397.5 597.5,401.5 597.5,405.5 595.5,408.5 591.5,410.5 589.5,408.5 587.5,405.5 586.5,401.5 587.5,397.5 590.5,394.5" stroke="#0000ff" fill="none"/>
<line x1="582.5" y1="407.5" x2="579.5" y2="413.5" stroke="#0000ff"/>
<line x1="601.5" y1="407.5" x2="604.5" y2="413.5" stroke="#0000ff"/>
<rect x="218.5" y="332.5" width="17" height="29" stroke="#00ffff" fill="none"/>
<line x1="232.5" y1="332.5" x2="232.5" y2="361.5" stroke="#00ffff"/>
<line x1="233.5" y1="334.5" x2="233.5" y2="359.5" stroke="#ffff00"/>
<circle cx="225.7" cy="339.5" r="4.6" fill="#ffff00" stroke="none"/>
<circle cx="225.7" cy="339.5" r="2.6" stroke="#6e6e96" stroke-dasharray="2 1"/>
<rect x="225" y="338" width="2" height="3" fill="#000"/>
<rect x="224" y="339" width="4" height="1" fill="#000"/>
<rect x="221" y="335" width="1" height="1" fill="#ffff00"/>
<rect x="229" y="335" width="1" height="1" fill="#ffff00"/>
<rect x="221" y="343" width="1" height="1" fill="#ffff00"/>
<rect x="229" y="343" width="1" height="1" fill="#ffff00"/>
<rect x="230" y="339" width="1" height="1" fill="#ffff00"/>
<rect x="234" y="336" width="1" height="4" fill="#806060"/>
<circle cx="225.7" cy="354.5" r="4.6" fill="#ffff00" stroke="none"/>
<circle cx="225.7" cy="354.5" r="2.6" stroke="#6e6e96" stroke-dasharray="2 1"/>
<rect x="225" y="353" width="2" height="3" fill="#000"/>
<rect x="224" y="354" width="4" height="1" fill="#000"/>
<rect x="221" y="350" width="1" height="1" fill="#ffff00"/>
<rect x="229" y="350" width="1" height="1" fill="#ffff00"/>
<rect x="221" y="358" width="1" height="1" fill="#ffff00"/>
<rect x="229" y="358" width="1" height="1" fill="#ffff00"/>
<rect x="230" y="354" width="1" height="1" fill="#ffff00"/>
<rect x="234" y="351" width="1" height="4" fill="#806060"/>
<polyline points="220.5,374.5 235.5,374.5 237.5,376.5 237.5,401.5 235.5,403.5 220.5,403.5 218.5,401.5 218.5,376.5 220.5,374.5" stroke="#ffff00" fill="none"/>
<polyline points="223.5,377.5 235.5,377.5 236.5,378.5 236.5,386.5 235.5,387.5 223.5,387.5 222.5,386.5 222.5,378.5 223.5,377.5" stroke="#ffff00" fill="none"/>
<polyline points="223.5,391.5 235.5,391.5 236.5,392.5 236.5,401.5 235.5,402.5 223.5,402.5 222.5,401.5 222.5,392.5 223.5,391.5" stroke="#ffff00" fill="none"/>
<polyline points="219.5,386.5 222.5,386.5" stroke="#ffff00" fill="none"/>
<polyline points="219.5,391.5 222.5,391.5" stroke="#ffff00" fill="none"/>
<line x1="237.5" y1="389.5" x2="237.5" y2="389.5" stroke="#ffff00"/>
<rect x="226" y="381" width="3" height="2" fill="#ffff00"/>
<rect x="226" y="395" width="3" height="2" fill="#ffff00"/>
<rect x="219" y="388" width="3" height="3" fill="#ffff00"/>
<polygon points="323.50,115.00 316.76,98.74 300.50,92.00 284.24,98.74 277.50,115.00 284.24,131.26 300.50,138.00 316.76,131.26" stroke="#808080" fill="none" stroke-width="3" stroke-dasharray="2 1"/>
<polygon points="327.50,115.00 319.59,95.91 300.50,88.00 281.41,95.91 273.50,115.00 281.41,134.09 300.50,142.00 319.59,134.09" stroke="#00ffff" fill="none" />
<polygon points="309.50,88.50 308.29,84.00 305.00,80.71 300.50,79.50 296.00,80.71 292.71,84.00 291.50,88.50 292.71,93.00 296.00,96.29 300.50,97.50 305.00,96.29 308.29,93.00" stroke="#ffff00" fill="none" />
<polyline points="309.92,81.90 308.49,80.23 306.76,78.86 304.81,77.84 302.69,77.21 300.50,77.00 298.31,77.21 296.19,77.84 294.24,78.86 292.51,80.23 291.08,81.90" stroke="#00ffff" fill="none" />
<polyline points="311.56,80.76 309.88,78.79 307.85,77.18 305.56,75.98 303.08,75.25 300.50,75.00 297.92,75.25 295.44,75.98 293.15,77.18 291.12,78.79 289.44,80.76" stroke="#00ffff" fill="none" />
<polyline points="309.92,81.90 311.56,80.76" stroke="#00ffff" fill="none" />
<polyline points="291.08,81.90 289.44,80.76" stroke="#00ffff" fill="none" />
<polygon points="285.94,101.75 284.74,97.25 281.44,93.96 276.94,92.75 272.44,93.96 269.15,97.25 267.94,101.75 269.15,106.25 272.44,109.54 276.94,110.75 281.44,109.54 284.74,106.25" stroke="#ffff00" fill="none" />
<polyline points="275.94,90.29 273.77,90.70 271.72,91.50 269.86,92.69 268.26,94.21 266.98,96.00 266.07,98.01 265.56,100.15 265.46,102.35 265.79,104.53 266.52,106.61" stroke="#00ffff" fill="none" />
<polyline points="275.77,88.30 273.22,88.77 270.82,89.72 268.63,91.11 266.76,92.89 265.25,95.00 264.18,97.35 263.58,99.87 263.46,102.46 263.85,105.02 264.71,107.46" stroke="#00ffff" fill="none" />
<polyline points="275.94,90.29 275.77,88.30" stroke="#00ffff" fill="none" />
<polyline points="266.52,106.61 264.71,107.46" stroke="#00ffff" fill="none" />
<polygon points="285.94,128.25 284.74,123.75 281.44,120.46 276.94,119.25 272.44,120.46 269.15,123.75 267.94,128.25 269.15,132.75 272.44,136.04 276.94,137.25 281.44,136.04 284.74,132.75" stroke="#ffff00" fill="none" />
<polyline points="266.52,123.39 265.79,125.47 265.46,127.65 265.56,129.85 266.07,131.99 266.98,134.00 268.26,135.79 269.86,137.31 271.72,138.50 273.77,139.30 275.94,139.71" stroke="#00ffff" fill="none" />
<polyline points="264.71,122.54 263.85,124.98 263.46,127.54 263.58,130.13 264.18,132.65 265.25,135.00 266.76,137.11 268.63,138.89 270.82,140.28 273.22,141.23 275.77,141.70" stroke="#00ffff" fill="none" />
<polyline points="266.52,123.39 264.71,122.54" stroke="#00ffff" fill="none" />
<polyline points="275.94,139.71 275.77,141.70" stroke="#00ffff" fill="none" />
<polygon points="309.50,141.50 308.29,137.00 305.00,133.71 300.50,132.50 296.00,133.71 292.71,137.00 291.50,141.50 292.71,146.00 296.00,149.29 300.50,150.50 305.00,149.29 308.29,146.00" stroke="#ffff00" fill="none" />
<polyline points="291.08,148.10 292.51,149.77 294.24,151.14 296.19,152.16 298.31,152.79 300.50,153.00 302.69,152.79 304.81,152.16 306.76,151.14 308.49,149.77 309.92,148.10" stroke="#00ffff" fill="none" />
<polyline points="289.44,149.24 291.12,151.21 293.15,152.82 295.44,154.02 297.92,154.75 300.50,155.00 303.08,154.75 305.56,154.02 307.85,152.82 309.88,151.21 311.56,149.24" stroke="#00ffff" fill="none" />
<polyline points="291.08,148.10 289.44,149.24" stroke="#00ffff" fill="none" />
<polyline points="309.92,148.10 311.56,149.24" stroke="#00ffff" fill="none" />
<polygon points="333.06,128.25 331.85,123.75 328.56,120.46 324.06,119.25 319.56,120.46 316.26,123.75 315.06,128.25 316.26,132.75 319.56,136.04 324.06,137.25 328.56,136.04 331.85,132.75" stroke="#ffff00" fill="none" />
<polyline points="325.06,139.71 327.23,139.30 329.28,138.50 331.14,137.31 332.74,135.79 334.02,134.00 334.93,131.99 335.44,129.85 335.54,127.65 335.21,125.47 334.48,123.39" stroke="#00ffff" fill="none" />
<polyline points="325.23,141.70 327.78,141.23 330.18,140.28 332.37,138.89 334.24,137.11 335.75,135.00 336.82,132.65 337.42,130.13 337.54,127.54 337.15,124.98 336.29,122.54" stroke="#00ffff" fill="none" />
<polyline points="325.06,139.71 325.23,141.70" stroke="#00ffff" fill="none" />
<polyline points="334.48,123.39 336.29,122.54" stroke="#00ffff" fill="none" />
<polygon points="333.06,101.75 331.85,97.25 328.56,93.96 324.06,92.75 319.56,93.96 316.26,97.25 315.06,101.75 316.26,106.25 319.56,109.54 324.06,110.75 328.56,109.54 331.85,106.25" stroke="#ffff00" fill="none" />
<polyline points="334.48,106.61 335.21,104.53 335.54,102.35 335.44,100.15 334.93,98.01 334.02,96.00 332.74,94.21 331.14,92.69 329.28,91.50 327.23,90.70 325.06,90.29" stroke="#00ffff" fill="none" />
<polyline points="336.29,107.46 337.15,105.02 337.54,102.46 337.42,99.87 336.82,97.35 335.75,95.00 334.24,92.89 332.37,91.11 330.18,89.72 327.78,88.77 325.23,88.30" stroke="#00ffff" fill="none" />
<polyline points="334.48,106.61 336.29,107.46" stroke="#00ffff" fill="none" />
<polyline points="325.06,90.29 325.23,88.30" stroke="#00ffff" fill="none" />
<rect x="99" y="323" width="76" height="46" fill="#808080"/>
<rect x="104" y="328" width="65" height="36" fill="#000"/>
<rect x="107" y="331" width="59" height="30" fill="#808080"/>
<rect x="136" y="349" width="1" height="2" fill="#000"/>
<rect x="140" y="350" width="1" height="1" fill="#000"/>
<rect x="159" y="348" width="1" height="2" fill="#000"/>
<rect x="147" y="357" width="1" height="1" fill="#000"/>
<rect x="136" y="341" width="1" height="1" fill="#000"/>
<rect x="142" y="357" width="2" height="2" fill="#000"/>
<rect x="110" y="351" width="1" height="2" fill="#000"/>
<rect x="149" y="355" width="2" height="2" fill="#000"/>
<rect x="118" y="351" width="1" height="2" fill="#000"/>
<rect x="112" y="333" width="1" height="1" fill="#000"/>
<rect x="123" y="351" width="1" height="2" fill="#000"/>
<rect x="128" y="346" width="2" height="1" fill="#000"/>
<rect x="141" y="339" width="2" height="2" fill="#000"/>
<rect x="139" y="332" width="2" height="1" fill="#000"/>
<rect x="137" y="352" width="1" height="2" fill="#000"/>
<rect x="143" y="358" width="1" height="2" fill="#000"/>
<rect x="124" y="342" width="1" height="2" fill="#000"/>
<rect x="126" y="332" width="1" height="2" fill="#000"/>
<rect x="157" y="335" width="1" height="1" fill="#000"/>
<rect x="162" y="341" width="1" height="1" fill="#000"/>
<rect x="109" y="353" width="1" height="1" fill="#000"/>
<rect x="121" y="333" width="1" height="2" fill="#000"/>
<rect x="153" y="344" width="1" height="1" fill="#000"/>
<rect x="144" y="352" width="1" height="2" fill="#000"/>
<rect x="125" y="342" width="1" height="2" fill="#000"/>
<rect x="129" y="332" width="1" height="1" fill="#000"/>
<rect x="116" y="339" width="2" height="1" fill="#000"/>
<rect x="108" y="333" width="1" height="2" fill="#000"/>
<rect x="119" y="353" width="2" height="1" fill="#000"/>
<rect x="136" y="348" width="1" height="2" fill="#000"/>
<rect x="157" y="336" width="1" height="2" fill="#000"/>
<rect x="132" y="335" width="1" height="2" fill="#000"/>
<rect x="121" y="332" width="1" height="2" fill="#000"/>
<rect x="127" y="332" width="1" height="1" fill="#000"/>
<rect x="133" y="351" width="2" height="2" fill="#000"/>
<rect x="114" y="333" width="1" height="1" fill="#000"/>
<rect x="136" y="340" width="1" height="2" fill="#000"/>
<rect x="129" y="358" width="1" height="2" fill="#000"/>
<rect x="112" y="334" width="1" height="1" fill="#000"/>
<rect x="145" y="352" width="1" height="1" fill="#000"/>
<rect x="146" y="343" width="1" height="2" fill="#000"/>
<rect x="137" y="336" width="2" height="2" fill="#000"/>
<rect x="161" y="350" width="1" height="2" fill="#000"/>
<rect x="119" y="352" width="1" height="2" fill="#000"/>
<rect x="122" y="358" width="2" height="1" fill="#000"/>
<rect x="154" y="338" width="1" height="2" fill="#000"/>
<rect x="148" y="349" width="1" height="2" fill="#000"/>
<rect x="132" y="347" width="2" height="1" fill="#000"/>
<rect x="134" y="333" width="1" height="1" fill="#000"/>
<rect x="110" y="348" width="1" height="1" fill="#000"/>
<rect x="155" y="354" width="1" height="2" fill="#000"/>
<rect x="134" y="358" width="2" height="2" fill="#000"/>
<rect x="126" y="348" width="1" height="2" fill="#000"/>
<rect x="112" y="336" width="1" height="2" fill="#000"/>
<rect x="143" y="352" width="2" height="2" fill="#000"/>
<rect x="112" y="340" width="1" height="1" fill="#000"/>
<rect x="155" y="332" width="1" height="2" fill="#000"/>
<rect x="134" y="346" width="1" height="1" fill="#000"/>
<rect x="110" y="337" width="1" height="2" fill="#000"/>
<rect x="141" y="350" width="1" height="1" fill="#000"/>
<rect x="131" y="336" width="1" height="2" fill="#000"/>
<rect x="150" y="355" width="2" height="2" fill="#000"/>
<rect x="145" y="336" width="2" height="1" fill="#000"/>
<rect x="109" y="347" width="1" height="2" fill="#000"/>
<rect x="127" y="333" width="1" height="2" fill="#000"/>
<rect x="148" y="334" width="1" height="1" fill="#000"/>
<rect x="154" y="341" width="1" height="1" fill="#000"/>
<rect x="112" y="334" width="1" height="2" fill="#000"/>
<rect x="131" y="355" width="1" height="2" fill="#000"/>
<rect x="155" y="354" width="1" height="2" fill="#000"/>
<rect x="130" y="334" width="2" height="2" fill="#000"/>
<rect x="112" y="345" width="1" height="2" fill="#000"/>
<rect x="144" y="332" width="2" height="2" fill="#000"/>
<rect x="132" y="344" width="2" height="1" fill="#000"/>
<rect x="146" y="334" width="1" height="1" fill="#000"/>
<rect x="148" y="335" width="1" height="2" fill="#000"/>
<rect x="154" y="342" width="1" height="2" fill="#000"/>
<rect x="152" y="350" width="1" height="2" fill="#000"/>
<rect x="137" y="358" width="2" height="1" fill="#000"/>
<rect x="141" y="356" width="2" height="1" fill="#000"/>
<rect x="127" y="351" width="1" height="2" fill="#000"/>
<rect x="109" y="339" width="2" height="1" fill="#000"/>
<rect x="139" y="356" width="2" height="2" fill="#000"/>
<rect x="139" y="340" width="1" height="2" fill="#000"/>
<rect x="127" y="336" width="2" height="2" fill="#000"/>
<rect x="120" y="348" width="1" height="2" fill="#000"/>
<rect x="150" y="346" width="1" height="1" fill="#000"/>
<rect x="128" y="344" width="2" height="2" fill="#000"/>
<rect x="120" y="352" width="1" height="1" fill="#000"/>
<rect x="121" y="344" width="1" height="2" fill="#000"/>
<rect x="128" y="338" width="1" height="1" fill="#000"/>
<rect x="139" y="343" width="1" height="2" fill="#000"/>
<rect x="112" y="340" width="1" height="1" fill="#000"/>
<rect x="136" y="347" width="1" height="1" fill="#000"/>
<rect x="161" y="345" width="1" height="2" fill="#000"/>
<rect x="174" y="366" width="1" height="2" fill="#000"/>
<rect x="174" y="343" width="1" height="1" fill="#000"/>
<rect x="99" y="361" width="1" height="2" fill="#000"/>
<rect x="99" y="359" width="1" height="2" fill="#000"/>
<rect x="116" y="323" width="1" height="2" fill="#000"/>
<rect x="102" y="367" width="1" height="1" fill="#000"/>
<rect x="105" y="367" width="2" height="1" fill="#000"/>
<rect x="174" y="329" width="2" height="2" fill="#000"/>
<rect x="99" y="327" width="2" height="1" fill="#000"/>
<rect x="159" y="367" width="1" height="1" fill="#000"/>
<rect x="159" y="323" width="2" height="2" fill="#000"/>
<rect x="121" y="323" width="1" height="2" fill="#000"/>
<rect x="99" y="357" width="2" height="2" fill="#000"/>
<rect x="149" y="367" width="2" height="1" fill="#000"/>
<rect x="151" y="323" width="2" height="2" fill="#000"/>
<rect x="156" y="367" width="1" height="1" fill="#000"/>
<rect x="147" y="323" width="2" height="2" fill="#000"/>
<rect x="99" y="352" width="1" height="2" fill="#000"/>
<rect x="111" y="367" width="2" height="2" fill="#000"/>
<rect x="126" y="323" width="1" height="2" fill="#000"/>
<rect x="138" y="323" width="2" height="2" fill="#000"/>
<rect x="99" y="324" width="1" height="2" fill="#000"/>
<rect x="103" y="323" width="1" height="2" fill="#000"/>
<rect x="174" y="340" width="1" height="1" fill="#000"/>
<rect x="107" y="367" width="1" height="1" fill="#000"/>
<rect x="167" y="367" width="1" height="2" fill="#000"/>
<rect x="159" y="367" width="1" height="2" fill="#000"/>
<rect x="174" y="354" width="2" height="2" fill="#000"/>
<rect x="127" y="323" width="1" height="2" fill="#000"/>
<rect x="99" y="358" width="2" height="1" fill="#000"/>
<rect x="99" y="342" width="2" height="2" fill="#000"/>
<rect x="137" y="367" width="1" height="2" fill="#000"/>
<rect x="99" y="359" width="1" height="1" fill="#000"/>
<rect x="174" y="357" width="1" height="2" fill="#000"/>
<rect x="147" y="323" width="1" height="2" fill="#000"/>
<rect x="165" y="323" width="1" height="2" fill="#000"/>
<rect x="161" y="323" width="1" height="2" fill="#000"/>
<rect x="107" y="367" width="2" height="2" fill="#000"/>
<rect x="174" y="348" width="1" height="1" fill="#000"/>
<rect x="174" y="354" width="1" height="2" fill="#000"/>
<rect x="174" y="353" width="2" height="2" fill="#000"/>
<rect x="123" y="323" width="1" height="2" fill="#000"/>
<rect x="132" y="323" width="1" height="2" fill="#000"/>
<rect x="103" y="323" width="1" height="1" fill="#000"/>
<rect x="100" y="367" width="2" height="2" fill="#000"/>
<rect x="99" y="345" width="1" height="2" fill="#000"/>
<rect x="174" y="329" width="1" height="2" fill="#000"/>
<rect x="164" y="323" width="2" height="2" fill="#000"/>
<rect x="166" y="367" width="1" height="1" fill="#000"/>
<rect x="174" y="363" width="1" height="2" fill="#000"/>
<rect x="167" y="367" width="1" height="2" fill="#000"/>
<rect x="166" y="367" width="1" height="2" fill="#000"/>
<rect x="128" y="367" width="2" height="2" fill="#000"/>
<rect x="99" y="334" width="1" height="2" fill="#000"/>
<rect x="99" y="335" width="1" height="1" fill="#000"/>
<rect x="116" y="323" width="1" height="1" fill="#000"/>
<rect x="132" y="323" width="1" height="1" fill="#000"/>
<rect x="174" y="349" width="2" height="2" fill="#000"/>
<rect x="124" y="367" width="1" height="2" fill="#000"/>
<rect x="111" y="323" width="1" height="2" fill="#000"/>
<rect x="101" y="331" width="2" height="2" fill="#000"/>
<rect x="102" y="336" width="1" height="2" fill="#000"/>
<rect x="103" y="324" width="2" height="2" fill="#000"/>
<rect x="170" y="336" width="1" height="1" fill="#000"/>
<rect x="122" y="365" width="1" height="2" fill="#000"/>
<rect x="107" y="324" width="2" height="2" fill="#000"/>
<rect x="112" y="325" width="1" height="2" fill="#000"/>
<rect x="172" y="346" width="1" height="1" fill="#000"/>
<rect x="100" y="364" width="2" height="1" fill="#000"/>
<rect x="123" y="366" width="1" height="2" fill="#000"/>
<rect x="101" y="336" width="2" height="1" fill="#000"/>
<rect x="165" y="324" width="1" height="1" fill="#000"/>
<rect x="172" y="362" width="1" height="2" fill="#000"/>
<rect x="101" y="341" width="1" height="2" fill="#000"/>
<rect x="151" y="365" width="1" height="2" fill="#000"/>
<rect x="101" y="335" width="1" height="1" fill="#000"/>
<rect x="109" y="366" width="1" height="2" fill="#000"/>
<rect x="101" y="325" width="2" height="2" fill="#000"/>
<rect x="129" y="325" width="2" height="2" fill="#000"/>
<rect x="100" y="366" width="1" height="2" fill="#000"/>
<rect x="168" y="365" width="1" height="2" fill="#000"/>
<rect x="172" y="337" width="2" height="1" fill="#000"/>
<rect x="172" y="325" width="1" height="2" fill="#000"/>
<rect x="130" y="325" width="1" height="2" fill="#000"/>
<rect x="125" y="326" width="1" height="1" fill="#000"/>
<line x1="107.5" y1="331.5" x2="107.5" y2="360.5" stroke="#00ffff"/>
<line x1="165.5" y1="331.5" x2="165.5" y2="360.5" stroke="#00ffff"/>
<line x1="168.5" y1="328.5" x2="168.5" y2="363.5" stroke="#00ffff"/>
<line x1="107" y1="331.5" x2="166" y2="331.5" stroke="#00ffff" stroke-dasharray="1 4"/>
<line x1="107" y1="360.5" x2="166" y2="360.5" stroke="#00ffff" stroke-dasharray="3 2"/>
<line x1="104" y1="328.5" x2="169" y2="328.5" stroke="#00ffff" stroke-dasharray="3 1.5"/>
<line x1="104" y1="363.5" x2="169" y2="363.5" stroke="#00ffff" stroke-dasharray="2 4"/>
<line x1="104.5" y1="328" x2="104.5" y2="364" stroke="#00ffff" stroke-dasharray="1 5"/>
<ellipse cx="138" cy="346" rx="17.75" ry="9.5" fill="#000" stroke="#ffff00"/>
<clipPath id="ec"><ellipse cx="138" cy="346" rx="17" ry="8.8"/></clipPath><g clip-path="url(#ec)">
<line x1="123.5" y1="344.5" x2="126.5" y2="351.5" stroke="#808080"/>
<line x1="125.5" y1="341.5" x2="129.5" y2="353.5" stroke="#808080"/>
<line x1="127.5" y1="340.5" x2="135.5" y2="354.5" stroke="#808080"/>
<line x1="132.5" y1="339.5" x2="150.5" y2="351.5" stroke="#808080"/>
<line x1="137.5" y1="337.5" x2="153.5" y2="349.5" stroke="#808080"/>
<line x1="139.5" y1="337.5" x2="155.5" y2="348.5" stroke="#808080"/>
<line x1="141.5" y1="337.5" x2="156.5" y2="347.5" stroke="#808080"/>
</g>
<ellipse cx="138" cy="346" rx="17.75" ry="9.5" fill="none" stroke="#ffff00"/>
<polyline points="71.5,328.5 93.5,328.5 93.5,331.5 95.5,333.5 96.5,335.5 96.5,356.5 95.5,358.5 93.5,359.5 93.5,362.5 71.5,362.5 69.5,361.5 68.5,359.5 68.5,333.5 69.5,331.5 71.5,328.5" stroke="#ffff00" fill="none"/>
<polyline points="71.5,330.5 92.5,330.5" stroke="#ff00ff" fill="none"/>
<polyline points="69.5,335.5 69.5,357.5" stroke="#ff00ff" fill="none"/>
<polyline points="72.5,360.5 92.5,360.5" stroke="#ff00ff" fill="none"/>
<polyline points="81.5,328.5 81.5,362.5" stroke="#ffff00" fill="none"/>
<polyline points="71.5,330.5 77.5,337.5 81.5,337.5" stroke="#ffff00" fill="none"/>
<polyline points="82.5,337.5 90.5,336.5 94.5,333.5" stroke="#ffff00" fill="none"/>
<polyline points="78.5,337.5 78.5,353.5" stroke="#ffff00" fill="none"/>
<polyline points="82.5,338.5 86.5,345.5 85.5,349.5 84.5,354.5" stroke="#ffff00" fill="none"/>
<polyline points="77.5,354.5 72.5,361.5" stroke="#ffff00" fill="none"/>
<polyline points="84.5,354.5 91.5,355.5 94.5,356.5" stroke="#ffff00" fill="none"/>
<polyline points="79.5,338.5 80.5,346.5 81.5,353.5" stroke="#ffff00" fill="none"/>
<polyline points="202.5,328.5 180.5,328.5 180.5,331.5 178.5,333.5 177.5,335.5 177.5,356.5 178.5,358.5 180.5,359.5 180.5,362.5 202.5,362.5 204.5,361.5 205.5,359.5 205.5,333.5 204.5,331.5 202.5,328.5" stroke="#ffff00" fill="none"/>
<polyline points="202.5,330.5 181.5,330.5" stroke="#ff00ff" fill="none"/>
<polyline points="204.5,335.5 204.5,357.5" stroke="#ff00ff" fill="none"/>
<polyline points="201.5,360.5 181.5,360.5" stroke="#ff00ff" fill="none"/>
<polyline points="192.5,328.5 192.5,362.5" stroke="#ffff00" fill="none"/>
<polyline points="202.5,330.5 196.5,337.5 192.5,337.5" stroke="#ffff00" fill="none"/>
<polyline points="191.5,337.5 183.5,336.5 179.5,333.5" stroke="#ffff00" fill="none"/>
<polyline points="195.5,337.5 195.5,353.5" stroke="#ffff00" fill="none"/>
<polyline points="191.5,338.5 187.5,345.5 188.5,349.5 189.5,354.5" stroke="#ffff00" fill="none"/>
<polyline points="196.5,354.5 201.5,361.5" stroke="#ffff00" fill="none"/>
<polyline points="189.5,354.5 182.5,355.5 179.5,356.5" stroke="#ffff00" fill="none"/>
<polyline points="194.5,338.5 193.5,346.5 192.5,353.5" stroke="#ff00ff" fill="none"/>
<polyline points="103.5,375.5 171.5,375.5 172.5,376.5 172.5,377.5 176.5,377.5 176.5,400.5 173.5,403.5 171.5,404.5 103.5,404.5 100.5,403.5 98.5,400.5 98.5,377.5 102.5,377.5 102.5,376.5 103.5,375.5" stroke="#ffff00" fill="none"/>
<line x1="104.5" y1="376.5" x2="170.5" y2="376.5" stroke="#ff00ff"/>
<line x1="104.5" y1="403.5" x2="170.5" y2="403.5" stroke="#ff00ff"/>
<line x1="100.5" y1="378.5" x2="100.5" y2="389.5" stroke="#ff00ff"/>
<line x1="174.5" y1="378.5" x2="174.5" y2="389.5" stroke="#ff00ff"/>
<line x1="99.5" y1="390.5" x2="99.5" y2="402.5" stroke="#ff00ff"/>
<line x1="175.5" y1="390.5" x2="175.5" y2="402.5" stroke="#ff00ff"/>
<polyline points="99.5,378.5 105.5,378.5 106.5,382.5 106.5,386.5 105.5,389.5 99.5,390.5" stroke="#ffff00" fill="none"/>
<polyline points="99.5,390.5 107.5,391.5 107.5,393.5 125.5,393.5" stroke="#ffff00" fill="none"/>
<polyline points="107.5,393.5 100.5,399.5" stroke="#ffff00" fill="none"/>
<polyline points="106.5,387.5 111.5,387.5 112.5,385.5 116.5,385.5 118.5,387.5 122.5,389.5 124.5,391.5 124.5,393.5" stroke="#ffff00" fill="none"/>
<polyline points="108.5,390.5 113.5,390.5 115.5,391.5 123.5,392.5" stroke="#ff00ff" fill="none"/>
<polyline points="175.5,378.5 169.5,378.5 168.5,382.5 168.5,386.5 169.5,389.5 175.5,390.5" stroke="#ffff00" fill="none"/>
<polyline points="175.5,390.5 167.5,391.5 167.5,393.5 149.5,393.5" stroke="#ffff00" fill="none"/>
<polyline points="167.5,393.5 174.5,399.5" stroke="#ffff00" fill="none"/>
<polyline points="168.5,387.5 163.5,387.5 162.5,385.5 158.5,385.5 156.5,387.5 152.5,389.5 150.5,391.5 150.5,393.5" stroke="#ffff00" fill="none"/>
<polyline points="166.5,390.5 161.5,390.5 159.5,391.5 151.5,392.5" stroke="#ff00ff" fill="none"/>
<line x1="125.5" y1="376.5" x2="125.5" y2="403.5" stroke="#ff00ff"/>
<line x1="127.5" y1="376.5" x2="127.5" y2="403.5" stroke="#ff00ff"/>
<line x1="126.5" y1="375.5" x2="126.5" y2="404.5" stroke="#ffff00"/>
<line x1="147.5" y1="376.5" x2="147.5" y2="403.5" stroke="#ff00ff"/>
<line x1="149.5" y1="376.5" x2="149.5" y2="403.5" stroke="#ff00ff"/>
<line x1="148.5" y1="375.5" x2="148.5" y2="404.5" stroke="#ffff00"/>
<polyline points="128.5,390.5 130.5,387.5 134.5,386.5 137.5,385.5 141.5,386.5 144.5,388.5 146.5,390.5" stroke="#ffff00" fill="none"/>
<line x1="128.5" y1="391.5" x2="146.5" y2="391.5" stroke="#ff00ff"/>
<line x1="128.5" y1="393.5" x2="146.5" y2="393.5" stroke="#ffff00"/>
<circle cx="81.5" cy="383.5" r="12.3" stroke="#ffff00"/>
<circle cx="81.5" cy="383.5" r="11.2" stroke="#a0605a" stroke-dasharray="2 1.5"/>
<circle cx="81.5" cy="387.5" r="7" stroke="#ffff00" stroke-dasharray="2 1.5"/>
<circle cx="81.5" cy="387.5" r="5.5" stroke="#ffff00" stroke-dasharray="1 2"/>
<circle cx="81.5" cy="387.5" r="3.5" stroke="#ff0000"/>
<line x1="74" y1="387.5" x2="89" y2="387.5" stroke="#a0605a"/>
<line x1="81.5" y1="380" x2="81.5" y2="395" stroke="#a0605a"/>
<line x1="76.5" y1="382.5" x2="86.5" y2="392.5" stroke="#a0605a"/>
<line x1="76.5" y1="392.5" x2="86.5" y2="382.5" stroke="#a0605a"/>
<circle cx="81.5" cy="387.5" r="1.2" fill="#a0605a" stroke="none"/>
<rect x="76" y="374" width="9" height="10" fill="#808080"/>
<rect x="80" y="375" width="2" height="5" fill="#000"/>
<polyline points="75.5,384.5 72.5,384.5 72.5,382.5 74.5,381.5" stroke="#808080"/>
<circle cx="193.5" cy="383.5" r="12.3" stroke="#ffff00"/>
<circle cx="193.5" cy="383.5" r="11.2" stroke="#a0605a" stroke-dasharray="2 1.5"/>
<circle cx="193.5" cy="387.5" r="7" stroke="#ffff00" stroke-dasharray="2 1.5"/>
<circle cx="193.5" cy="387.5" r="5.5" stroke="#ffff00" stroke-dasharray="1 2"/>
<circle cx="193.5" cy="387.5" r="3.5" stroke="#ff0000"/>
<line x1="186" y1="387.5" x2="201" y2="387.5" stroke="#a0605a"/>
<line x1="193.5" y1="380" x2="193.5" y2="395" stroke="#a0605a"/>
<line x1="188.5" y1="382.5" x2="198.5" y2="392.5" stroke="#a0605a"/>
<line x1="188.5" y1="392.5" x2="198.5" y2="382.5" stroke="#a0605a"/>
<circle cx="193.5" cy="387.5" r="1.2" fill="#a0605a" stroke="none"/>
</svg>
</body></html>
